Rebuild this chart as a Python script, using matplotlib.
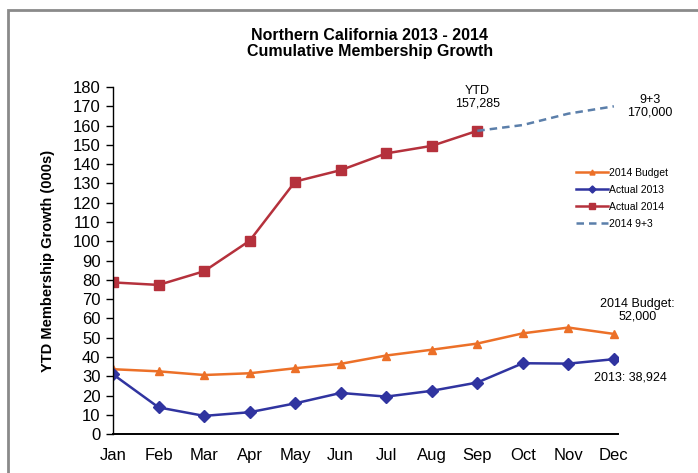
import matplotlib
import matplotlib.pyplot as plt
from matplotlib.patches import Rectangle

matplotlib.use("Agg")

plt.rcParams["font.family"] = ["Liberation Sans Narrow", "Liberation Sans", "DejaVu Sans"]

months = ["Jan", "Feb", "Mar", "Apr", "May", "Jun", "Jul", "Aug", "Sep", "Oct", "Nov", "Dec"]
budget_2014 = [33.7, 32.6, 30.7, 31.6, 34.2, 36.5, 40.8, 43.8, 47.0, 52.3, 55.3, 52.0]
actual_2013 = [31.0, 13.9, 9.5, 11.4, 16.0, 21.4, 19.5, 22.5, 26.8, 36.8, 36.6, 38.9]
actual_2014 = [78.7, 77.4, 84.5, 100.3, 131.0, 136.9, 145.6, 149.5, 157.3]
forecast_months = ["Sep", "Oct", "Nov", "Dec"]
forecast_9_3 = [157.3, 160.3, 166.2, 170.0]

x_all = list(range(len(months)))
x_fc = [months.index(m) for m in forecast_months]

fig = plt.figure(figsize=(6.98, 4.73), dpi=100)
ax = fig.add_axes([0.162, 0.082, 0.724, 0.734])

ax.plot(x_all, budget_2014, color="#EC7028", lw=1.8, marker="^", ms=6,
        label="2014 Budget")
ax.plot(x_all, actual_2013, color="#3034A0", lw=1.8, marker="D", ms=6,
        label="Actual 2013")
ax.plot(x_all[:len(actual_2014)], actual_2014, color="#B5313C", lw=1.8,
        marker="s", ms=6.5, label="Actual 2014")
ax.plot(x_fc, forecast_9_3, color="#5B7FAA", lw=1.8, ls=(0, (3, 2)),
        label="2014 9+3")

ax.set_xlim(0, 11.1)
ax.set_ylim(0, 180)
ax.set_yticks(range(0, 181, 10))
ax.set_xticks(x_all)
ax.set_xticklabels(months)
ax.tick_params(axis="y", direction="out", length=5, width=1, labelsize=12, pad=4)
ax.tick_params(axis="x", length=0, labelsize=12, pad=10)
for side in ["top", "right"]:
    ax.spines[side].set_visible(False)
ax.spines["bottom"].set_linewidth(1.4)
ax.spines["left"].set_linewidth(1.0)

ax.set_ylabel("YTD Membership Growth (000s)", fontsize=10.5, fontweight="bold",
              labelpad=13)

fig.text(0.53, 0.908, "Northern California 2013 - 2014\nCumulative Membership Growth",
         ha="center", va="center", fontsize=11.5, fontweight="bold", linespacing=1.1)

ax.legend(loc="upper left", bbox_to_anchor=(0.898, 0.794), frameon=False,
          fontsize=7.5, handlelength=3.0, handletextpad=0.1, labelspacing=0.66,
          markerscale=0.6)

ax.annotate("YTD\n157,285", (8, 157.3), xytext=(0, 15), textcoords="offset points",
            ha="center", va="bottom", fontsize=9, linespacing=1.1)
ax.annotate("9+3\n170,000", (11, 170), xytext=(26, 0), textcoords="offset points",
            ha="center", va="center", fontsize=9, linespacing=1.1,
            annotation_clip=False)
ax.annotate("2014 Budget:\n52,000", (11, 52), xytext=(17, 8), textcoords="offset points",
            ha="center", va="bottom", fontsize=9, linespacing=1.1,
            annotation_clip=False)
ax.annotate("2013: 38,924", (11, 38.9), xytext=(12, -13), textcoords="offset points",
            ha="center", va="center", fontsize=9, annotation_clip=False)

# outer frame, only top and left edges fall inside the crop
fig.patches.append(Rectangle((8 / 698, -0.1), 1.2, 0.1 + 1 - 10 / 473,
                             transform=fig.transFigure, fill=False,
                             edgecolor="#8a8a8a", lw=2))

fig.savefig("out.png", dpi=100, facecolor="white")
